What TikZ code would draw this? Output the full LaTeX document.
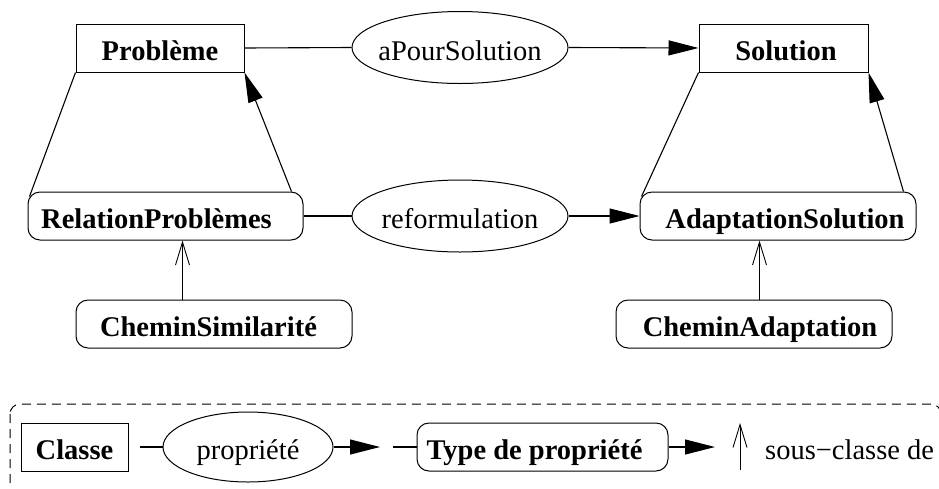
\documentclass[tikz,border=0pt]{standalone}
\usepackage{fontspec}
\setmainfont{Liberation Serif}
\usetikzlibrary{shapes.geometric,arrows.meta,calc}
\newcommand{\ctext}[2]{\makebox[0pt]{\hspace*{#1}\makebox[0pt]{#2}}}
\begin{document}
\begin{tikzpicture}[x=1pt,y=-1pt,
  every node/.style={font=\fontsize{28.5pt}{34pt}\selectfont, inner sep=0pt, text height=25pt, text depth=0pt},
  classbox/.style={draw, rectangle, line width=1pt, minimum height=48pt, font=\fontsize{28.5pt}{34pt}\selectfont\bfseries},
  relbox/.style={classbox, rounded corners=12pt},
  propell/.style={draw, ellipse, line width=1pt, minimum width=216pt, minimum height=72pt},
  conn/.style={line width=1.1pt},
  filled/.style={conn, -{Triangle[length=30pt,width=15pt]}},
  subcl/.style={line width=0.9pt, -{Straight Barb[length=23pt,width=14pt]}}]
\useasboundingbox (0,0) rectangle (939,488);

% main diagram
\node[classbox, minimum width=168pt] (P) at (160,48) {\makebox[0pt]{Problème}};
\node[classbox, minimum width=169pt] (S) at (783.5,48) {\ctext{5pt}{Solution}};
\node[propell] (aps) at (460,47.5) {\makebox[0pt]{aPourSolution}};
\node[relbox, minimum width=275pt] (RP) at (165.5,216) {\ctext{-18pt}{RelationProblèmes}};
\node[propell] (ref) at (460,216) {\makebox[0pt]{reformulation}};
\node[relbox, minimum width=276pt] (AS) at (778,216) {\ctext{14pt}{AdaptationSolution}};
\node[relbox, minimum width=276pt] (CS) at (214,324) {\ctext{-11pt}{CheminSimilarité}};
\node[relbox, minimum width=276pt] (CA) at (754,324) {\ctext{12pt}{CheminAdaptation}};

\draw[conn] (P.east) -- (aps.west);
\draw[filled] (aps.east) -- (S.west);
\draw[conn] (RP.east) -- (ref.west);
\draw[filled] (ref.east) -- (AS.west);
\draw[conn] (P.south west) -- ($(RP.north west)+(2,5)$);
\draw[filled] ($(RP.north east)+(-12,0)$) -- (P.south east);
\draw[conn] (S.south west) -- ($(AS.north west)+(2,5)$);
\draw[filled] ($(AS.north east)+(-13,0)$) -- (S.south east);

\draw[subcl] ($(CS.north west)+(107,0)$) -- ($(RP.south west)+(155,0)$);
\draw[subcl] ($(CA.north west)+(144,0)$) -- ($(AS.south west)+(120,0)$);

% legend
\begin{scope}
\clip (0,0) rectangle (939,488);
\draw[line width=1pt, dash pattern=on 9pt off 6pt, rounded corners=10pt] (10,404) rectangle (941,500);
\end{scope}
\node[classbox, minimum width=107pt] (L1) at (74.5,447) {\makebox[0pt]{Classe}};
\coordinate (L1s) at (140,447);
\node[draw, ellipse, line width=1pt, minimum width=170pt, minimum height=70pt] (L2) at (248,447) {\makebox[0pt]{propriété}};
\coordinate (L2a) at (380,447);
\coordinate (L3s) at (393,447);
\node[relbox, minimum width=251pt] (L3) at (542.5,447) {\ctext{-16pt}{Type de propriété}};
\coordinate (L3a) at (715,447);
\coordinate (L4b) at (740,470);
\coordinate (L4t) at (740,423);
\node[anchor=west] (L5) at (765,447) {sous−classe de};

\draw[conn] (L1s) -- (L2.west);
\draw[filled] (L2.east) -- (L2a);
\draw[conn] (L3s) -- (L3.west);
\draw[filled] (L3.east) -- (L3a);
\draw[subcl] (L4b) -- (L4t);
\end{tikzpicture}
\end{document}
